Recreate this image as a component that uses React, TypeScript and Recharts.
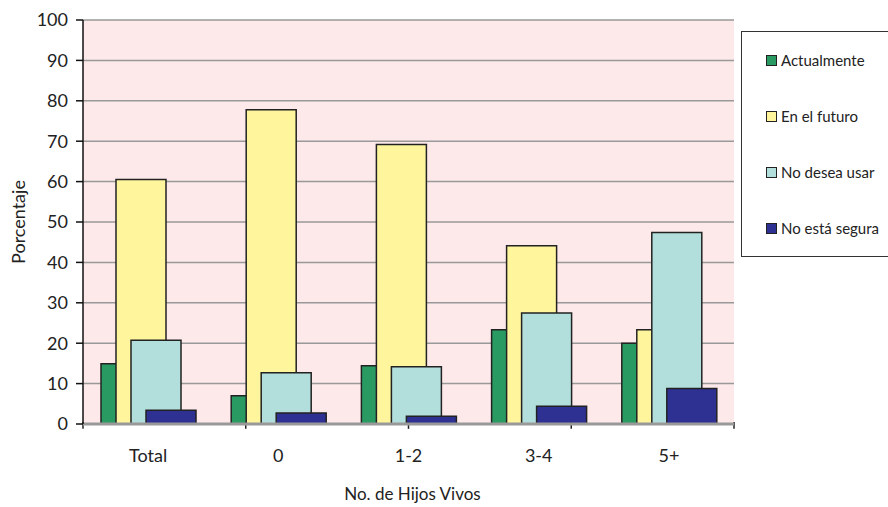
import React from 'react';
import {
  BarChart,
  Bar,
  XAxis,
  YAxis,
  CartesianGrid,
  Legend,
  ReferenceLine,
} from 'recharts';

const categories = ['Total', '0', '1-2', '3-4', '5+'];
const actualmente = [14.9, 7.0, 14.4, 23.3, 20.0];
const enElFuturo = [60.5, 77.8, 69.2, 44.1, 23.3];
const noDeseaUsar = [20.7, 12.7, 14.2, 27.5, 47.4];
const noEstaSegura = [3.4, 2.7, 1.9, 4.4, 8.8];
const yTicks = [0, 10, 20, 30, 40, 50, 60, 70, 80, 90, 100];
const boundaries = [0, 1, 2, 3, 4, 5];

const data = categories.map((name, i) => ({
  name,
  actualmente: actualmente[i],
  futuro: enElFuturo[i],
  noDesea: noDeseaUsar[i],
  noSegura: noEstaSegura[i],
}));

const series = [
  {key: 'actualmente', label: 'Actualmente', color: '#2A9A63'},
  {key: 'futuro', label: 'En el futuro', color: '#FFF59D'},
  {key: 'noDesea', label: 'No desea usar', color: '#B2DFDB'},
  {key: 'noSegura', label: 'No está segura', color: '#2E3192'},
];

const renderLegend = (props: any) => {
  const items = props.payload || [];
  return (
    <div>
      {items.map((entry: any) => (
        <div
          key={entry.value}
          style={{
            height: 56,
            display: 'flex',
            alignItems: 'center',
            paddingLeft: 24,
            fontSize: 15,
            color: '#222',
          }}
        >
          <span
            style={{
              width: 9,
              height: 9,
              background: entry.color,
              border: '1px solid #222',
              marginRight: 4,
              display: 'inline-block',
            }}
          />
          {entry.value}
        </div>
      ))}
    </div>
  );
};

export default function App() {
  return (
    <div style={{width: 888, height: 507, overflow: 'hidden', fontFamily: 'Lato, sans-serif'}}>
      <style>{'body{margin:0}'}</style>
      <BarChart
        width={888}
        height={507}
        data={data}
        margin={{top: 20, right: 154, bottom: 0, left: 0}}
        barSize={50}
        barGap={-35}
      >
        <CartesianGrid vertical={false} stroke="#999" strokeWidth={1.5} fill="#FDE8EA" />
        <XAxis
          dataKey="name"
          height={83}
          tickSize={0}
          tickLine={false}
          tickMargin={25}
          axisLine={{stroke: '#999', strokeWidth: 3}}
          tick={{fill: '#222', fontSize: 18}}
          label={{value: 'No. de Hijos Vivos', position: 'insideBottom', offset: 7, dx: 4, fill: '#222', fontSize: 17}}
        />
        <XAxis xAxisId="b" type="number" domain={[0, 5]} hide />
        <YAxis
          width={83}
          domain={[0, 100]}
          ticks={yTicks}
          interval={0}
          tickSize={7}
          tickMargin={8}
          axisLine={{stroke: '#111', strokeWidth: 1.5}}
          tickLine={{stroke: '#111', strokeWidth: 1.5}}
          tick={{fill: '#222', fontSize: 18}}
          label={{
            value: 'Porcentaje',
            angle: -90,
            position: 'insideLeft',
            offset: 19,
            fill: '#222',
            fontSize: 18,
            style: {textAnchor: 'middle'},
          }}
        />
        <ReferenceLine xAxisId="b" x={5} stroke="#999" strokeWidth={2} />
        {boundaries.map((b) => (
          <ReferenceLine
            key={`tick-${b}`}
            xAxisId="b"
            ifOverflow="visible"
            segment={[{x: b, y: 0.5}, {x: b, y: -1.2}]}
            stroke="#222"
            strokeWidth={1.5}
          />
        ))}
        <Legend
          layout="vertical"
          align="center"
          verticalAlign="middle"
          content={renderLegend}
          wrapperStyle={{
            left: 741,
            top: 31,
            width: 160,
            height: 226,
            border: '1.5px solid #333',
            boxSizing: 'border-box',
            background: '#fff',
          }}
        />
        {series.map((s) => (
          <Bar
            key={s.key}
            dataKey={s.key}
            name={s.label}
            fill={s.color}
            stroke="#222"
            strokeWidth={1.5}
            isAnimationActive={false}
          />
        ))}
      </BarChart>
    </div>
  );
}
